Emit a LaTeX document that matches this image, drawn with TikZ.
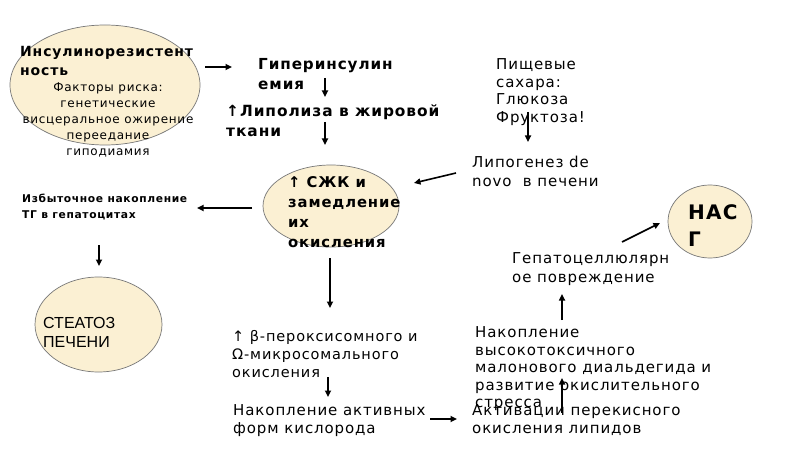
\documentclass[tikz,border=0pt]{standalone}
\usepackage{fontspec}
\setmainfont[LetterSpace=6]{DejaVu Sans}
\newfontfamily\steatfont{Liberation Sans}
\usetikzlibrary{shapes.geometric,arrows.meta}
\definecolor{ellfill}{RGB}{251,240,211}
\definecolor{ellline}{RGB}{120,120,120}
\begin{document}
\begin{tikzpicture}[x=1pt,y=-1pt,
  ell/.style={ellipse, draw=ellline, line width=0.7pt, fill=ellfill, inner sep=0},
  arr/.style={line width=1.6pt, -{Triangle[length=6.5pt,width=6pt]}},
  txt/.style={anchor=north west, inner sep=0, align=left},
]
\useasboundingbox[fill=white] (0,0) rectangle (800,449);

% ellipses
\node[ell, minimum width=190pt, minimum height=120pt] (e1) at (105,85) {};
\node[ell, minimum width=136pt, minimum height=82pt] (e2) at (331,206) {};
\node[ell, minimum width=127pt, minimum height=95pt] (e3) at (98.5,324.5) {};
\node[ell, minimum width=84pt, minimum height=73pt] (e4) at (710,221.5) {};

% texts
\node[txt, font=\fontsize{14}{19}\selectfont\bfseries] (tIns) at (20,46) {Инсулинорезистент\\ность};
\node[anchor=north, inner sep=0, align=center, font=\fontsize{12}{16}\selectfont] (tFact) at (108,83) {Факторы риска:\\генетические\\висцеральное ожирение\\переедание\\гиподиамия};
\node[txt, font=\fontsize{15.2}{20}\selectfont\bfseries] (tHyp) at (258,58.5) {Гиперинсулин\\емия};
\node[txt, font=\fontsize{15.4}{20}\selectfont\bfseries] (tLip) at (226,104.5) {↑Липолиза в жировой\\ткани};
\node[txt, font=\fontsize{15}{17.5}\selectfont] (tFood) at (496,58.7) {Пищевые\\сахара:\\Глюкоза\\Фруктоза!};
\node[txt, font=\fontsize{15}{19}\selectfont] (tLipo) at (472,155.7) {Липогенез de\\novo\ \ в печени};
\node[txt, font=\fontsize{14.8}{20}\selectfont\bfseries] (tSzhk) at (288,176) {↑ СЖК и\\замедление\\их\\окисления};
\node[txt, font=\fontsize{10.7}{16.5}\selectfont\bfseries] (tIzb) at (22,193.5) {Избыточное накопление\\ТГ в гепатоцитах};
\node[txt, font=\fontsize{16}{19}\selectfont\steatfont] (tSteat) at (43,317.3) {СТЕАТОЗ\\ПЕЧЕНИ};
\node[txt, font=\fontsize{14.5}{18}\selectfont] (tBeta) at (232,330) {↑ β-пероксисомного и\\Ω-микросомального\\окисления};
\node[txt, font=\fontsize{15}{18}\selectfont] (tAkt) at (233,404.7) {Накопление активных\\форм кислорода};
\node[txt, font=\fontsize{15}{18}\selectfont] (tPerek) at (472,404.7) {Активации перекисного\\окисления липидов};
\node[txt, font=\fontsize{15}{17.5}\selectfont] (tMalon) at (475,326.7) {Накопление\\высокотоксичного\\малонового диальдегида и\\развитие окислительного\\стресса};
\node[txt, font=\fontsize{15}{19}\selectfont] (tGep) at (512,252.7) {Гепатоцеллюлярн\\ое повреждение};
\node[txt, font=\fontsize{20}{27}\selectfont\bfseries] (tNasg) at (688,204.6) {НАС\\Г};

% arrow end points
\coordinate (a1s) at (205,67);   \coordinate (a1e) at (232,67);
\coordinate (a2s) at (325,78);   \coordinate (a2e) at (325,97);
\coordinate (a3s) at (325,122);  \coordinate (a3e) at (325,145);
\coordinate (a4s) at (528,112);  \coordinate (a4e) at (528,142);
\coordinate (a5s) at (456,173);  \coordinate (a5e) at (414,183);
\coordinate (a6s) at (252,208);  \coordinate (a6e) at (197,208);
\coordinate (a7s) at (99,245);   \coordinate (a7e) at (99,266);
\coordinate (a8s) at (330,258);  \coordinate (a8e) at (330,308);
\coordinate (a9s) at (328,377);  \coordinate (a9e) at (328,397);
\coordinate (a10s) at (430,419); \coordinate (a10e) at (457,419);
\coordinate (a11s) at (562,413); \coordinate (a11e) at (562,378);
\coordinate (a12s) at (562,320); \coordinate (a12e) at (562,294);
\coordinate (a13s) at (622,242); \coordinate (a13e) at (660,223);

\foreach \i in {1,...,13} {\draw[arr] (a\i s) -- (a\i e);}
\end{tikzpicture}
\end{document}
